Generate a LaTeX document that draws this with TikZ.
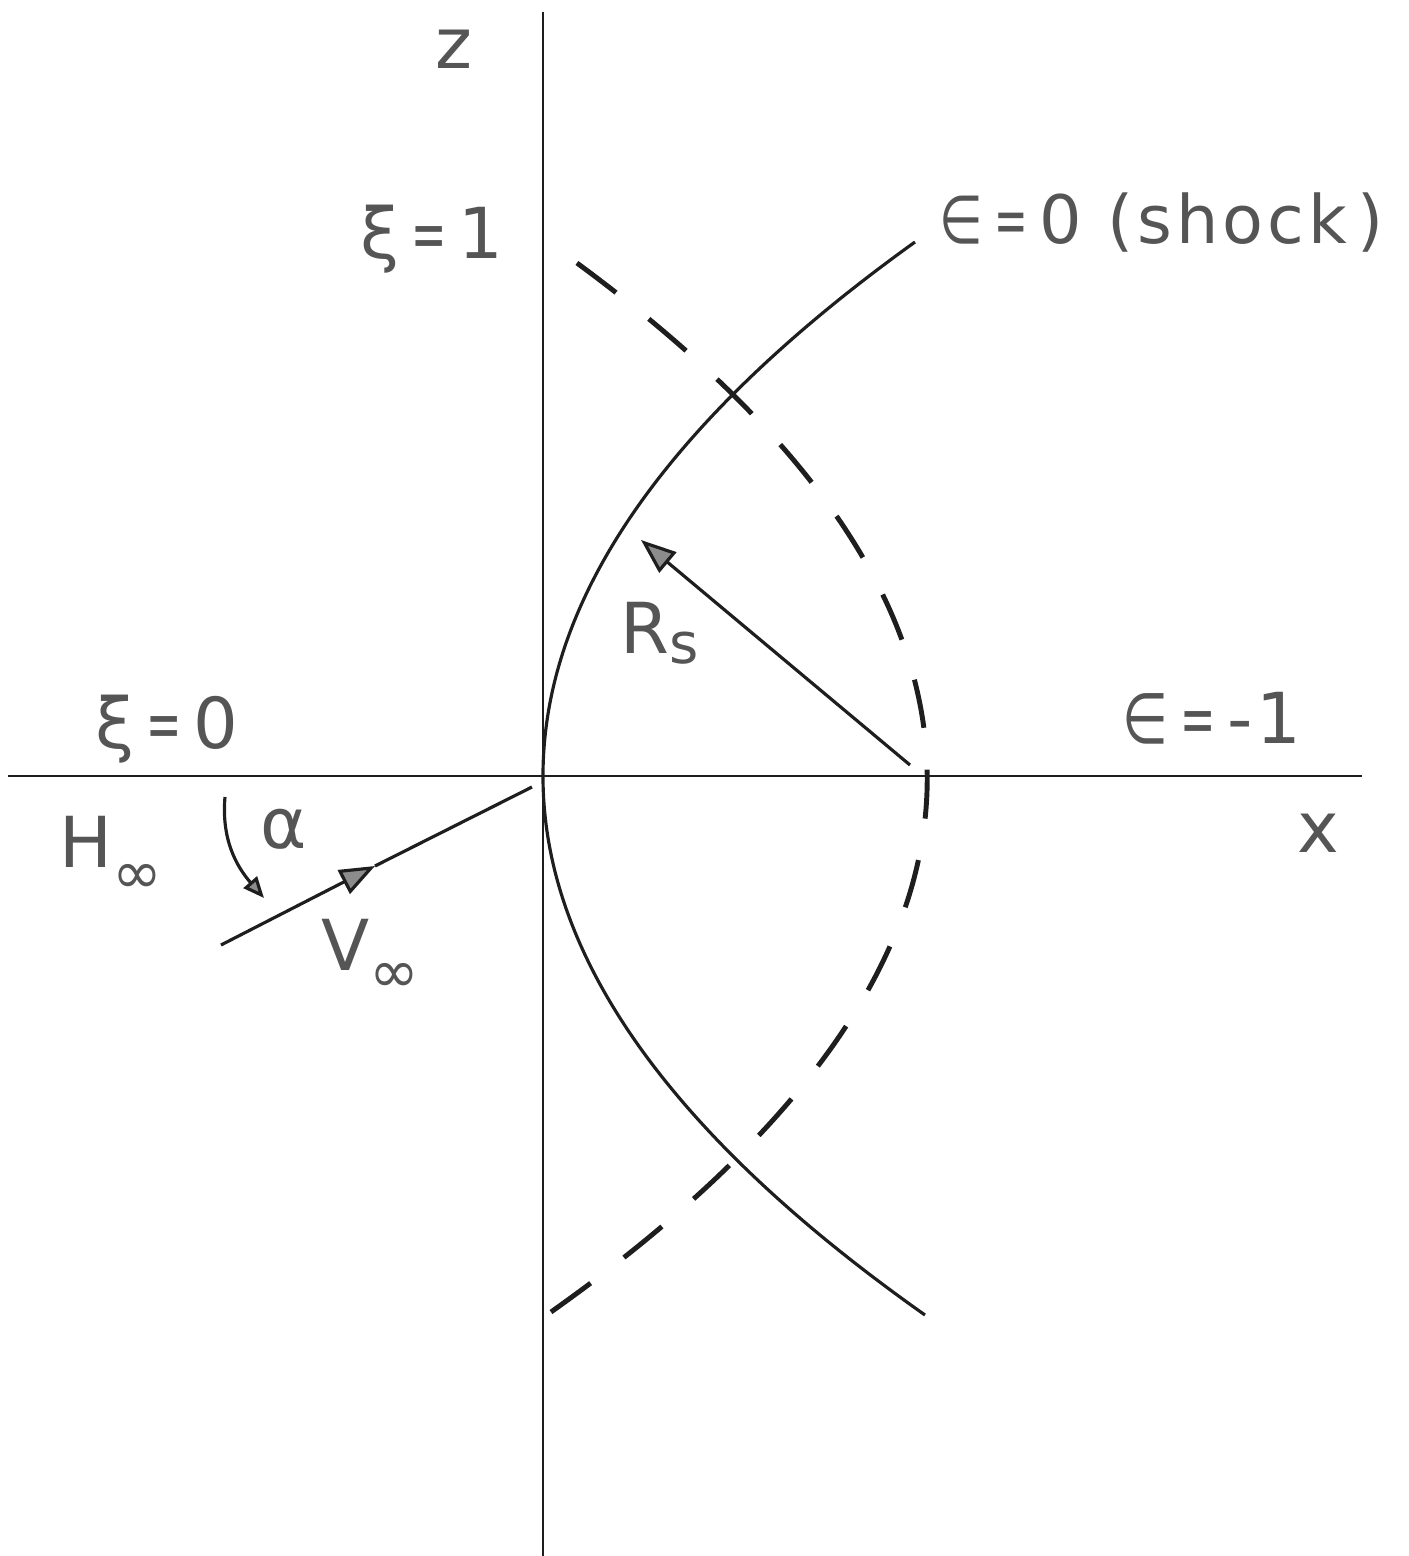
\documentclass[tikz,border=0pt]{standalone}
\usepackage{fontspec}
\setmainfont{DejaVu Sans}[LetterSpace=6]
\usetikzlibrary{arrows.meta}
\definecolor{ink}{HTML}{1E1E1E}
\definecolor{lettering}{HTML}{555555}
\definecolor{headfill}{HTML}{8C8C8C}
\tikzset{
  axis/.style={line width=0.7pt,draw=ink},
  shock/.style={line width=0.9pt,draw=ink},
  xiline/.style={line width=1.4pt,draw=ink,dash pattern=on 0.49cm off 0.42cm},
  vec/.style={-{Triangle[length=10pt,width=7.5pt,fill=headfill]},line width=0.9pt,draw=ink},
  turn/.style={-{Triangle[length=6pt,width=5pt,fill=headfill]},line width=0.9pt,draw=ink},
  lbl/.style={text=lettering,inner sep=0pt,font=\fontsize{20}{24}\selectfont}
}
\newcommand{\eq}{\,\scalebox{.6}[1]{=}\,}
\newcommand{\eps}{\scalebox{.75}[1]{∈}}
\newcommand{\lowsub}[3]{\raisebox{#1}{\fontsize{#2}{18}\selectfont #3}}

\begin{document}
\begin{tikzpicture}[x=0.01cm,y=0.01cm]
 \useasboundingbox (-543,-780) rectangle (866,776);
 % axes
 \draw[axis] (-535,0) -- (819,0);
 \draw[axis] (0,764) -- (0,-780);
 % shock and xi=1 curves (parabolas)
 \draw[shock] (382,-539) .. controls (127.3,-359.3) and (0,-179.7) .. (0,0)
   .. controls (0,178) and (124,356) .. (372,534);
 \draw[xiline] (8,-536) .. controls (512,-178.7) and (509.3,178.7) .. (2,536);
 % vectors
 \coordinate (rtail) at (367,11);
 \coordinate (rtip) at (98,236);
 \draw[vec] (rtail) -- (rtip);
 \coordinate (vstart) at (-322,-169);
 \coordinate (vhead) at (-168,-90);
 \coordinate (vend) at (-11,-11);
 \draw[vec] (vstart) -- (vhead);
 \draw[shock] (vhead) -- (vend);
 \coordinate (astart) at (-318,-21);
 \coordinate (aend) at (-279,-122);
 \draw[turn] (astart) to[out=-95,in=131] (aend);
 % labels
 \node[lbl,anchor=base] (zlab) at (-89,708) {z};
 \node[lbl,anchor=base] (xione) at (-111,518) {ξ\eq 1};
 \node[lbl,anchor=base,font=\fontsize{19}{22}\selectfont] (shocklab) at (619,533) {\eps\eq 0 (shock\,)};
 \node[lbl,anchor=base] (xizero) at (-376,28) {ξ\eq 0};
 \node[lbl,anchor=base] (epsone) at (669,33) {\eps\eq-1};
 \node[lbl,anchor=base] (xlab) at (775,-76) {x};
 \node[lbl,anchor=base west] (hinf) at (-484,-91) {H\lowsub{-7.5pt}{17}{∞}};
 \node[lbl,anchor=base] (alab) at (-259,-72) {α};
 \node[lbl,anchor=base west] (vinf) at (-222,-194) {V\lowsub{-6.5pt}{17}{∞}};
 \node[lbl,anchor=base west] (rs) at (77,123) {R\lowsub{-3pt}{16}{s}};
\end{tikzpicture}
\end{document}
